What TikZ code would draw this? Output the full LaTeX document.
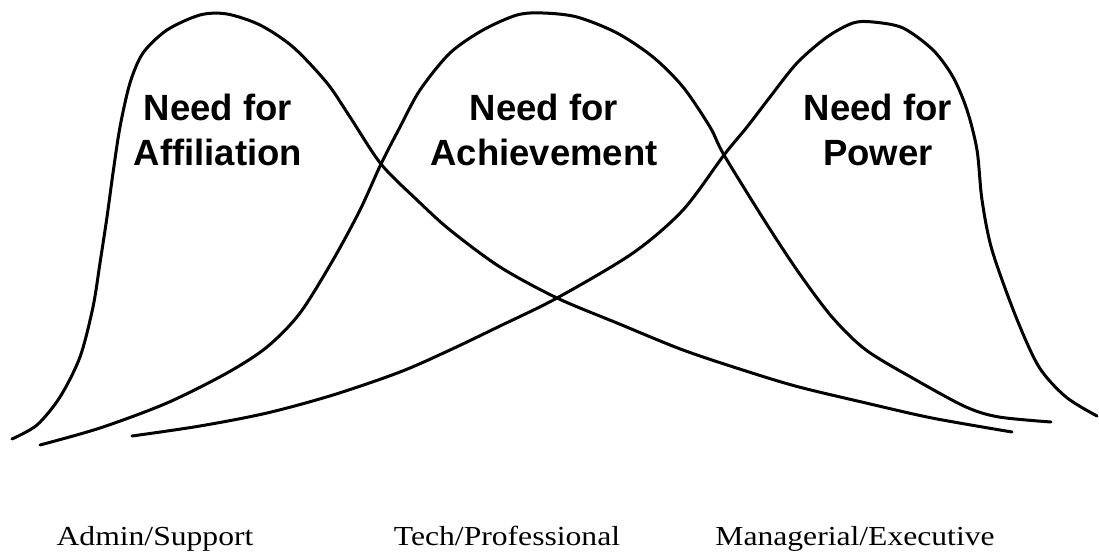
\documentclass[tikz,border=0pt]{standalone}
\usepackage{fontspec}
\setmainfont{Liberation Serif}
\newfontfamily\headfont{Liberation Sans}
\begin{document}
\begin{tikzpicture}[x=1pt,y=-1pt,
  curve/.style={line width=3pt,line cap=round,line join=round},
  needlabel/.style={font=\headfont\bfseries\fontsize{36.5}{45}\selectfont,align=center,anchor=base,inner sep=0pt},
  grouplabel/.style={font=\fontsize{27.5}{30}\selectfont,anchor=base,inner sep=0pt,xscale=1.15,transform shape}]
\useasboundingbox (0,0) rectangle (1099,552);
% need for affiliation: steep rise, long tail to the right
\draw[curve] plot[smooth,tension=0.5] coordinates {
  (12,439) (37,425) (60,397) (80,357) (93,307) (100,263) (107,217) (113,173)
  (120,127) (130,83) (143,53) (167,30) (200,15) (227,14) (260,25) (293,47)
  (327,83) (350,117) (381,164) (417,200) (450,230) (500,267) (557,298)
  (617,323) (683,350) (749,372) (799,387) (866,403) (932,418) (1012,432)};
% need for achievement: roughly symmetric bell
\draw[curve] plot[smooth,tension=0.5] coordinates {
  (40,445) (100,428) (167,403) (227,373) (267,347) (300,313) (333,260)
  (360,210) (381,164) (400,127) (420,90) (450,53) (483,30) (517,15) (543,13)
  (577,17) (617,33) (653,57) (683,87) (710,127) (724,155) (766,223)
  (799,273) (832,317) (866,350) (916,380) (966,407) (999,417) (1051,422)};
% need for power: long tail to the left, steep fall
\draw[curve] plot[smooth,tension=0.5] coordinates {
  (132,436) (200,426) (267,413) (333,395) (400,372) (450,350) (500,326)
  (557,298) (633,253) (683,210) (724,155) (747,127) (770,97) (797,63)
  (827,37) (853,23) (873,22) (903,28) (933,50) (953,77) (967,110) (977,150)
  (982,200) (992,250) (1016,317) (1039,367) (1066,397) (1097,416)};
% curve labels
\node[needlabel] (aff) at (218,165) {Need for\\Affiliation};
\node[needlabel] (ach) at (544,165) {Need for\\Achievement};
\node[needlabel] (pow) at (878,165) {Need for\\Power};
% job groups
\node[grouplabel] (admin) at (155,545) {Admin/Support};
\node[grouplabel] (tech) at (507,545) {Tech/Professional};
\node[grouplabel] (mgr) at (855,545) {Managerial/Executive};
\end{tikzpicture}
\end{document}
